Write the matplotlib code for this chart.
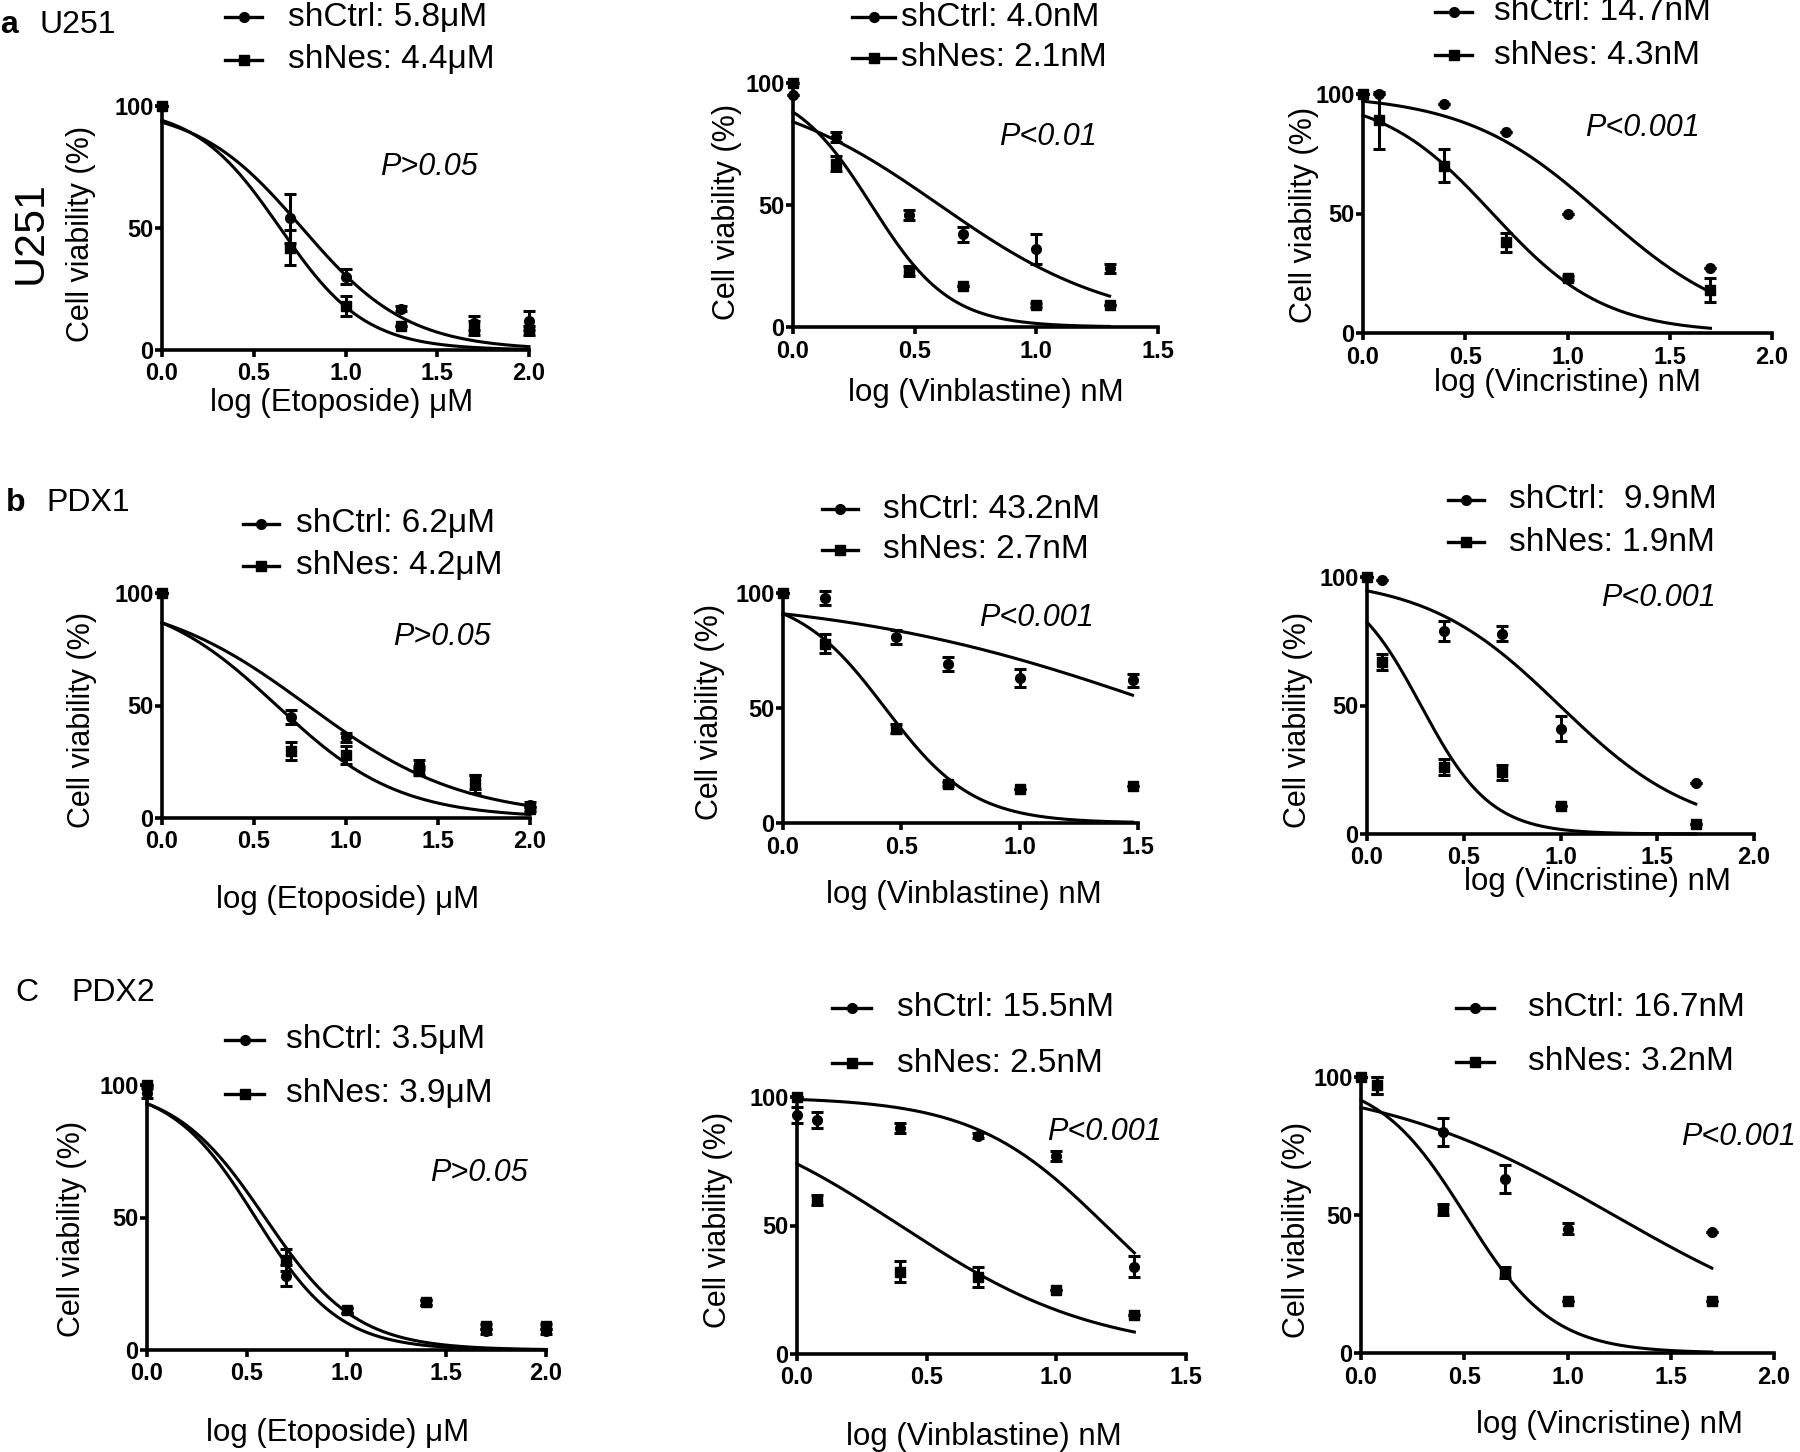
import numpy as np
import matplotlib
matplotlib.use('Agg')
import matplotlib.pyplot as plt
from matplotlib.lines import Line2D

plt.rcParams['font.family'] = ['Liberation Sans', 'DejaVu Sans']

W, H = 1800, 1452

# ---- data (log dose, % viability, SEM) ----
# row a: U251
a1_x = [0, 0.699, 1.0, 1.301, 1.699, 2.0]
a1_ctrl = [100, 54, 30, 17, 11, 12]
a1_ctrl_err = [0, 10, 3, 1, 3, 4]
a1_nes = [100, 42, 18, 10, 9, 8]
a1_nes_err = [0, 7, 4, 0, 3, 2]
a1_ic50 = [5.8, 4.4]
a1_hill = [1.5, 1.87]
a1_labels = ['shCtrl: 5.8μM', 'shNes: 4.4μM']

a2_x = [0, 0.176, 0.477, 0.699, 1.0, 1.301]
a2_ctrl = [95, 78, 46, 38, 32, 24]
a2_ctrl_err = [0, 2, 2, 3, 6, 2]
a2_nes = [100, 67, 23, 17, 9, 9]
a2_nes_err = [0, 3, 2, 0, 1, 0]
a2_ic50 = [4.0, 2.1]
a2_hill = [1.2, 2.7]
a2_labels = ['shCtrl: 4.0nM', 'shNes: 2.1nM']

a3_x = [0, 0.079, 0.398, 0.699, 1.0, 1.699]
a3_ctrl = [100, 100, 96, 84, 50, 27]
a3_ctrl_err = [0, 0, 0, 0, 0, 0]
a3_nes = [100, 89, 70, 38, 23, 18]
a3_nes_err = [0, 12, 7, 4, 1, 5]
a3_ic50 = [14.7, 4.3]
a3_hill = [1.29, 1.59]
a3_labels = ['shCtrl: 14.7nM', 'shNes: 4.3nM']

# row b: PDX1
b1_x = [0, 0.699, 1.0, 1.398, 1.699, 2.0]
b1_ctrl = [100, 45, 36, 24, 15, 6]
b1_ctrl_err = [0, 3, 2, 2, 4, 1]
b1_nes = [100, 30, 28, 21, 16, 4]
b1_nes_err = [0, 4, 4, 2, 3, 1]
b1_ic50 = [6.2, 4.2]
b1_hill = [1.03, 1.31]
b1_labels = ['shCtrl: 6.2μM', 'shNes: 4.2μM']

b2_x = [0, 0.176, 0.477, 0.699, 1.0, 1.477]
b2_ctrl = [100, 98, 81, 69, 63, 62]
b2_ctrl_err = [0, 3, 3, 3, 4, 3]
b2_nes = [100, 78, 41, 17, 15, 16]
b2_nes_err = [0, 4, 2, 1, 0, 0]
b2_ic50 = [43.2, 2.7]
b2_hill = [0.614, 2.33]
b2_labels = ['shCtrl: 43.2nM', 'shNes: 2.7nM']

b3_x = [0, 0.079, 0.398, 0.699, 1.0, 1.699]
b3_ctrl = [100, 99, 79, 78, 41, 20]
b3_ctrl_err = [0, 0, 4, 3, 5, 0]
b3_nes = [100, 67, 26, 24, 11, 4]
b3_nes_err = [0, 3, 3, 3, 0, 0]
b3_ic50 = [9.9, 1.9]
b3_hill = [1.25, 2.41]
b3_labels = ['shCtrl:  9.9nM', 'shNes: 1.9nM']

# row c: PDX2
c1_x = [0, 0.699, 1.0, 1.398, 1.699, 2.0]
c1_ctrl = [97, 28, 15, 18, 7, 7]
c1_ctrl_err = [2, 4, 1, 1, 1, 1]
c1_nes = [100, 34, 15, 18, 9, 9]
c1_nes_err = [0, 4, 1, 1, 1, 1]
c1_ic50 = [3.5, 3.9]
c1_hill = [2.06, 1.9]
c1_labels = ['shCtrl: 3.5μM', 'shNes: 3.9μM']

c2_x = [0, 0.079, 0.398, 0.699, 1.0, 1.301]
c2_ctrl = [93, 91, 88, 85, 77, 34]
c2_ctrl_err = [3, 3, 2, 1, 2, 4]
c2_nes = [100, 60, 32, 30, 25, 15]
c2_nes_err = [0, 2, 4, 4, 0, 0]
c2_ic50 = [15.5, 2.5]
c2_hill = [1.7, 1.14]
c2_labels = ['shCtrl: 15.5nM', 'shNes: 2.5nM']

c3_x = [0, 0.079, 0.398, 0.699, 1.0, 1.699]
c3_ctrl = [100, 97, 80, 63, 45, 44]
c3_ctrl_err = [0, 3, 5, 5, 2, 0]
c3_nes = [100, 97, 52, 29, 19, 19]
c3_nes_err = [0, 3, 2, 2, 0, 0]
c3_ic50 = [16.7, 3.2]
c3_hill = [0.74, 2.05]
c3_labels = ['shCtrl: 16.7nM', 'shNes: 3.2nM']

p_texts = ['P>0.05', 'P<0.01', 'P<0.001',
           'P>0.05', 'P<0.001', 'P<0.001',
           'P>0.05', 'P<0.001', 'P<0.001']
xlabels = ['log (Etoposide) μM', 'log (Vinblastine) nM', 'log (Vincristine) nM'] * 3
xmax = [2.0, 1.5, 2.0] * 3

# ---- layout (pixel boxes: left, right, y100, y0) ----
boxes = [(162, 529, 106, 350), (793, 1158, 83, 327), (1363, 1772, 94, 333),
         (162, 530, 593, 818), (783, 1138, 593, 823), (1367, 1754, 577, 834),
         (147, 546, 1085, 1350), (797, 1186, 1097, 1354), (1361, 1774, 1077, 1353)]
# legend: (sample x0, sample x1, text x, ctrl y, nes y)
leg_pos = [(225, 262, 288, 17, 60), (852, 895, 901, 17, 58), (1435, 1472, 1494, 12, 55),
           (243, 279, 296, 524, 566), (822, 858, 883, 509, 550), (1448, 1484, 1509, 500, 542),
           (225, 264, 286, 1040, 1094), (832, 871, 897, 1008, 1063), (1456, 1494, 1528, 1008, 1062)]
p_pos = [(380, 167), (999, 137), (1585, 128),
         (393, 637), (979, 618), (1601, 598),
         (430, 1173), (1047, 1132), (1681, 1137)]
xlab_pos = [(342, 403), (986, 393), (1567, 383),
            (348, 900), (964, 895), (1597, 882),
            (338, 1433), (984, 1437), (1609, 1425)]
ylab_pos = [(81, 234), (727, 212), (1304, 215),
            (82, 720), (710, 712), (1298, 720),
            (72, 1229), (718, 1220), (1297, 1230)]

panels = [
    (a1_x, a1_ctrl, a1_ctrl_err, a1_nes, a1_nes_err, a1_ic50, a1_hill, a1_labels),
    (a2_x, a2_ctrl, a2_ctrl_err, a2_nes, a2_nes_err, a2_ic50, a2_hill, a2_labels),
    (a3_x, a3_ctrl, a3_ctrl_err, a3_nes, a3_nes_err, a3_ic50, a3_hill, a3_labels),
    (b1_x, b1_ctrl, b1_ctrl_err, b1_nes, b1_nes_err, b1_ic50, b1_hill, b1_labels),
    (b2_x, b2_ctrl, b2_ctrl_err, b2_nes, b2_nes_err, b2_ic50, b2_hill, b2_labels),
    (b3_x, b3_ctrl, b3_ctrl_err, b3_nes, b3_nes_err, b3_ic50, b3_hill, b3_labels),
    (c1_x, c1_ctrl, c1_ctrl_err, c1_nes, c1_nes_err, c1_ic50, c1_hill, c1_labels),
    (c2_x, c2_ctrl, c2_ctrl_err, c2_nes, c2_nes_err, c2_ic50, c2_hill, c2_labels),
    (c3_x, c3_ctrl, c3_ctrl_err, c3_nes, c3_nes_err, c3_ic50, c3_hill, c3_labels),
]


def fx(px):
    return px / W


def fy(py):
    return 1 - py / H


def dose_response(x, ic50, hill):
    # fitted sigmoid (top 100, bottom 0) from the reported IC50
    return 100 / (1 + 10 ** (hill * (x - np.log10(ic50))))


fig = plt.figure(figsize=(18, 14.52), dpi=100)

lw_axis = 2.6
for i, (x, ctrl, ctrl_err, nes, nes_err, ic50, hill, labels) in enumerate(panels):
    l, r, t, b = boxes[i]
    ax = fig.add_axes([fx(l), fy(b), (r - l) / W, (b - t) / H])
    ax.set_xlim(0, xmax[i])
    ax.set_ylim(0, 100)
    for s in ['top', 'right']:
        ax.spines[s].set_visible(False)
    for s in ['left', 'bottom']:
        ax.spines[s].set_linewidth(lw_axis)
    ax.set_yticks([0, 50, 100])
    ticks = np.arange(0, xmax[i] + 0.01, 0.5)
    ax.set_xticks(ticks)
    ax.set_xticklabels([f'{v:.1f}' for v in ticks])
    ax.tick_params(width=lw_axis, length=5, labelsize=17, pad=1)
    ax.tick_params(axis='x', pad=4)
    for lab in ax.get_xticklabels() + ax.get_yticklabels():
        lab.set_fontweight('bold')

    xs = np.linspace(0, x[-1], 200)
    ax.plot(xs, dose_response(xs, ic50[0], hill[0]), color='black', lw=2.2, clip_on=False)
    ax.plot(xs, dose_response(xs, ic50[1], hill[1]), color='black', lw=2.2, clip_on=False)

    ax.errorbar(x, nes, yerr=nes_err, fmt='s', color='black', ms=7, capsize=4,
                elinewidth=2.2, capthick=2.2, clip_on=False, zorder=3)
    ax.errorbar(x, ctrl, yerr=ctrl_err, fmt='o', color='black', ms=7, capsize=4,
                elinewidth=2.2, capthick=2.2, clip_on=False, zorder=3)

    # legend drawn at fixed spots, like the original
    sx0, sx1, tx, yc, yn = leg_pos[i]
    for yy, mk, lab in [(yc, 'o', labels[0]), (yn, 's', labels[1])]:
        fig.add_artist(Line2D([fx(sx0), fx(sx1)], [fy(yy), fy(yy)],
                              transform=fig.transFigure, color='black', lw=2.4))
        fig.add_artist(Line2D([fx((sx0 + sx1) / 2)], [fy(yy)], transform=fig.transFigure,
                              marker=mk, color='black', ms=7))
        fig.text(fx(tx), fy(yy), lab, fontsize=24, va='center', ha='left')

    px, py = p_pos[i]
    fig.text(fx(px), fy(py), p_texts[i], fontsize=22, style='italic', va='center', ha='left')
    lx, ly = xlab_pos[i]
    fig.text(fx(lx), fy(ly), xlabels[i], fontsize=22.5, va='center', ha='center')
    yx, yy = ylab_pos[i]
    fig.text(fx(yx), fy(yy), 'Cell viability (%)', fontsize=22, rotation=90,
             va='center', ha='center')

# row titles
fig.text(fx(0), fy(25), 'a', fontsize=23, fontweight='bold', va='center', ha='left')
fig.text(fx(39), fy(25), 'U251', fontsize=23, va='center', ha='left')
fig.text(fx(31), fy(233), 'U251', fontsize=31, rotation=90, va='center', ha='center')
fig.text(fx(6), fy(503), 'b', fontsize=23, fontweight='bold', va='center', ha='left')
fig.text(fx(46), fy(503), 'PDX1', fontsize=23, va='center', ha='left')
fig.text(fx(15), fy(993), 'C', fontsize=23, va='center', ha='left')
fig.text(fx(71), fy(993), 'PDX2', fontsize=23, va='center', ha='left')

fig.savefig('out.png', dpi=100)
